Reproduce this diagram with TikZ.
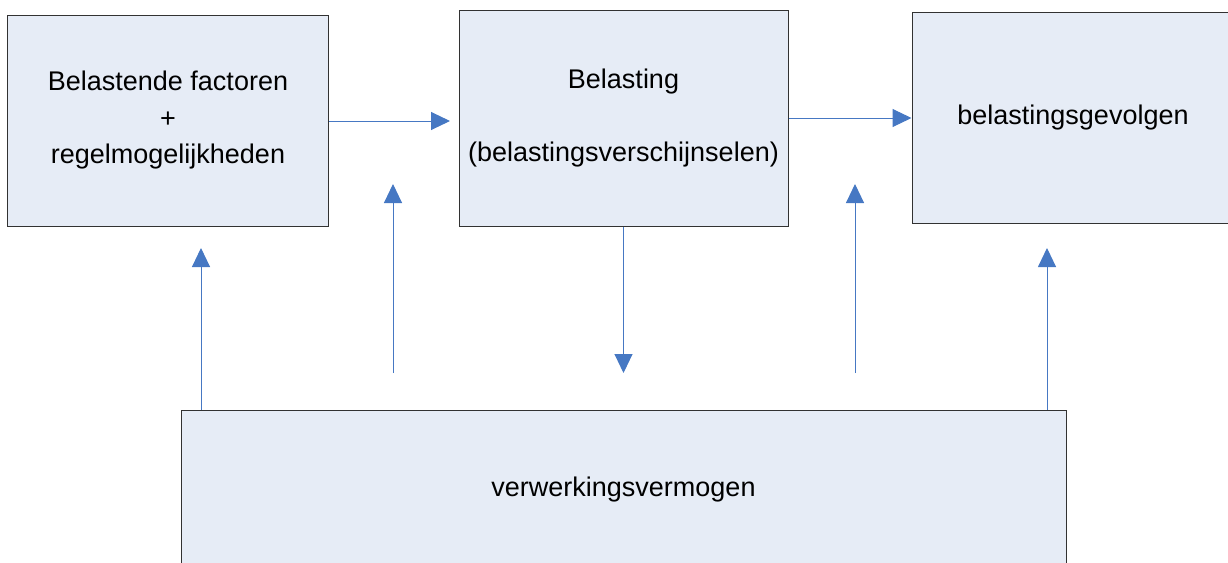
\documentclass[tikz,border=0pt]{standalone}
\usepackage{fontspec}
\setmainfont{Liberation Sans}
\usetikzlibrary{arrows.meta}
\definecolor{boxfill}{RGB}{230,236,246}
\definecolor{arrowblue}{RGB}{70,120,195}
\definecolor{boxline}{RGB}{50,50,50}
\begin{document}
\begin{tikzpicture}[x=1pt,y=-1pt,
  box/.style={draw=boxline, line width=1pt, fill=boxfill, inner sep=0pt, align=center,
              font=\fontsize{27}{36.5}\selectfont},
  conn/.style={draw=arrowblue, line width=1pt, -{Triangle[length=19pt,width=18pt]}, arrowblue}]
\clip (0,0) rectangle (1228,562);
\node[box, minimum width=321pt, minimum height=211pt] (b1) at (168,120.5)
  {Belastende factoren\\+\\regelmogelijkheden};
\node[box, minimum width=329pt, minimum height=216pt] (b2) at (623.5,118)
  {Belasting\\[36.5pt](belastingsverschijnselen)};
\node[box, minimum width=322pt, minimum height=211pt] (b3) at (1073,118)
  {belastingsgevolgen};
\node[box, minimum width=885pt, minimum height=160pt] (vv) at (623.5,490)
  {verwerkingsvermogen};
% free ends
\coordinate (a1) at (450,121);
\coordinate (d1) at (623.5,373);
\coordinate (u1) at (201,248);
\coordinate (u2s) at (393,373);
\coordinate (u2) at (393,184);
\coordinate (u3s) at (855,373);
\coordinate (u3) at (855,184);
\coordinate (u4) at (1047,248);
% connectors
\draw[conn] (b1.east |- a1) -- (a1);
\draw[conn] (b2.east) -- (b3.west);
\draw[conn] (b2.south) -- (d1);
\draw[conn] (u1 |- vv.north) -- (u1);
\draw[conn] (u2s) -- (u2);
\draw[conn] (u3s) -- (u3);
\draw[conn] (u4 |- vv.north) -- (u4);
\end{tikzpicture}
\end{document}
